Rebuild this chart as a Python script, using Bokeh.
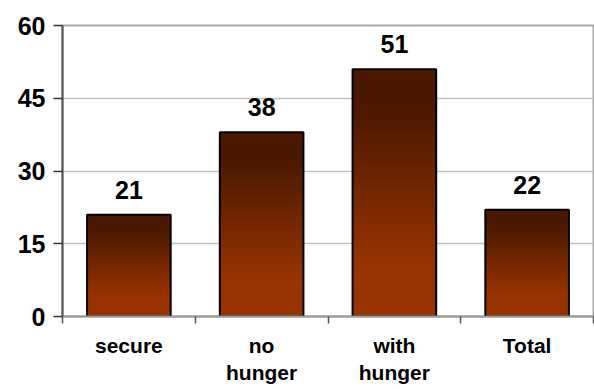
import numpy as np
from bokeh.plotting import figure
from bokeh.models import Range1d, FixedTicker, ColumnDataSource
from bokeh.core.properties import value
from bokeh.embed import file_html
from bokeh.resources import INLINE

categories = ["secure", "no\nhunger", "with\nhunger", "Total"]
values = [21, 38, 51, 22]
label_texts = ["21", "38", "51", "22"]
y_ticks = [0, 15, 30, 45, 60]

FONT = "Liberation Sans"
top_rgb = np.array([0x4A, 0x19, 0x00])
bot_rgb = np.array([0x99, 0x33, 0x00])

p = figure(width=594, height=389, output_backend="svg", toolbar_location=None,
           x_range=Range1d(0, len(categories)), y_range=Range1d(0, 60),
           min_border_left=62, min_border_right=1, min_border_top=25, min_border_bottom=73)
p.background_fill_color = "white"
p.border_fill_color = "white"
p.outline_line_color = "#a8a8a8"
p.outline_line_width = 2

xs = np.arange(len(categories)) + 0.5
bw = 0.63

# gradient bars built from slices
N = 70
lefts, rights, bottoms, tops, colors = [], [], [], [], []
for x, v in zip(xs, values):
    for i in range(N):
        f0 = i / N
        f1 = (i + 1) / N
        t = (f0 + f1) / 2
        w = min(1.0, max(0.0, (t - 0.2) / 0.65))
        c = bot_rgb + (top_rgb - bot_rgb) * w
        colors.append("#%02x%02x%02x" % tuple(int(round(k)) for k in c))
        lefts.append(x - bw / 2)
        rights.append(x + bw / 2)
        bottoms.append(v * f0)
        tops.append(v * min(1.0, f1 + 0.6 / N))
p.quad(left=lefts, right=rights, bottom=bottoms, top=tops, fill_color=colors,
       line_color=None)
p.vbar(x=xs, top=values, width=bw, bottom=0, fill_color=None, line_color="black", line_width=2)

src = ColumnDataSource(dict(x=xs, y=values, t=label_texts))
p.text(x="x", y="y", text="t", source=src, text_align="center", text_baseline="alphabetic",
       y_offset=-25, text_font_size="25px", text_font_style="bold", text_font=value(FONT),
       text_color="black")

# y axis
p.yaxis.ticker = FixedTicker(ticks=y_ticks)
p.yaxis.major_label_text_font = FONT
p.yaxis.major_label_text_font_size = "25px"
p.yaxis.major_label_text_font_style = "bold"
p.yaxis.major_label_text_color = "black"
p.yaxis.major_tick_out = 9
p.yaxis.major_tick_in = 0
p.yaxis.major_tick_line_color = "#333333"
p.yaxis.major_tick_line_width = 1.5
p.yaxis.major_label_standoff = 8
p.yaxis.minor_tick_line_color = None
p.yaxis.axis_line_color = "#555555"
p.yaxis.axis_line_width = 2

# x axis
p.xaxis.ticker = FixedTicker(ticks=list(xs), minor_ticks=list(range(len(categories) + 1)))
p.xaxis.major_label_overrides = {float(x): c for x, c in zip(xs, categories)}
p.xaxis.major_tick_line_color = None
p.xaxis.major_tick_out = 7
p.xaxis.minor_tick_out = 7
p.xaxis.minor_tick_in = 0
p.xaxis.minor_tick_line_color = "#555555"
p.xaxis.minor_tick_line_width = 1.5
p.xaxis.axis_line_color = "#999999"
p.xaxis.axis_line_width = 2
p.xaxis.major_label_text_font = FONT
p.xaxis.major_label_text_font_size = "21px"
p.xaxis.major_label_text_font_style = "bold"
p.xaxis.major_label_text_color = "black"
p.xaxis.major_label_standoff = 10

p.xgrid.grid_line_color = None
p.ygrid.grid_line_color = "#c0c0c0"
p.ygrid.grid_line_width = 1.5
p.ygrid.ticker = FixedTicker(ticks=y_ticks)

open("out.html", "w").write(file_html(p, INLINE))
